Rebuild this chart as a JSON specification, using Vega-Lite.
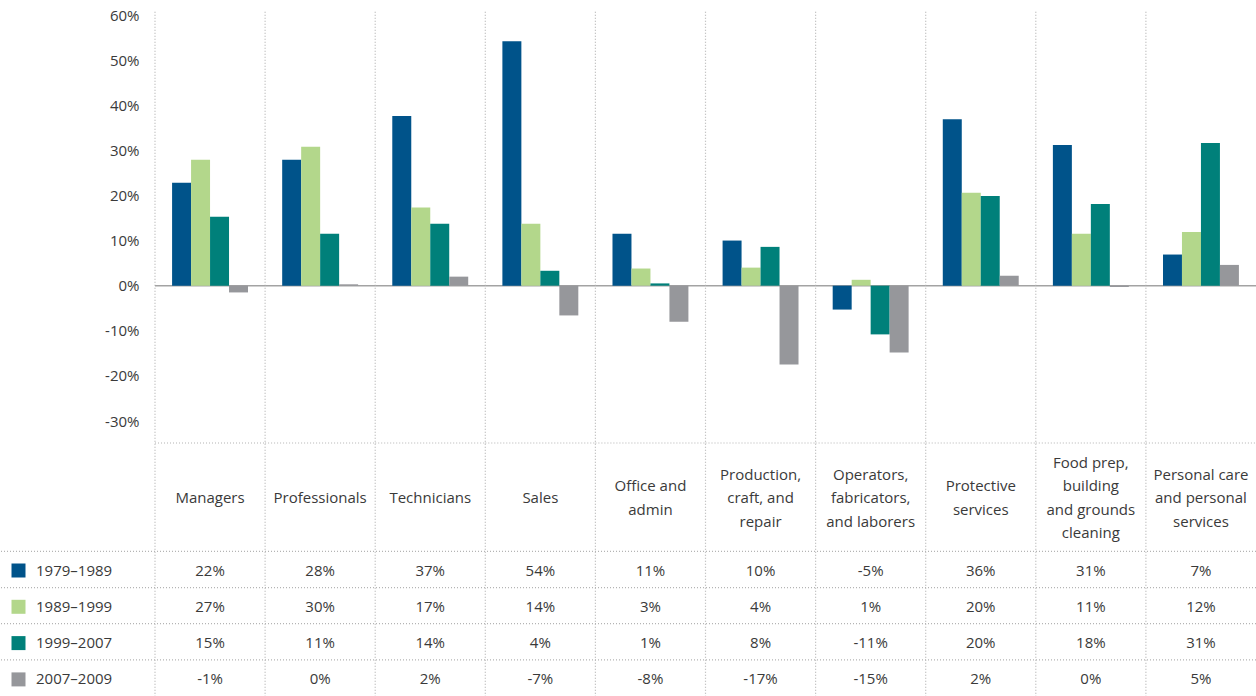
{
  "$schema": "https://vega.github.io/schema/vega-lite/v6.json",
  "width": 1256,
  "height": 696,
  "autosize": {"type": "none"},
  "padding": 0,
  "config": {"font": "Open Sans", "view": {"stroke": null}},
  "datasets": {
    "d": [
      {"occ": "Managers", "period": "1979–1989", "value": 22.8, "label": "22%"},
      {"occ": "Managers", "period": "1989–1999", "value": 27.9, "label": "27%"},
      {"occ": "Managers", "period": "1999–2007", "value": 15.3, "label": "15%"},
      {"occ": "Managers", "period": "2007–2009", "value": -1.5, "label": "-1%"},
      {"occ": "Professionals", "period": "1979–1989", "value": 27.9, "label": "28%"},
      {"occ": "Professionals", "period": "1989–1999", "value": 30.8, "label": "30%"},
      {"occ": "Professionals", "period": "1999–2007", "value": 11.5, "label": "11%"},
      {"occ": "Professionals", "period": "2007–2009", "value": 0.3, "label": "0%"},
      {"occ": "Technicians", "period": "1979–1989", "value": 37.6, "label": "37%"},
      {"occ": "Technicians", "period": "1989–1999", "value": 17.3, "label": "17%"},
      {"occ": "Technicians", "period": "1999–2007", "value": 13.7, "label": "14%"},
      {"occ": "Technicians", "period": "2007–2009", "value": 2.0, "label": "2%"},
      {"occ": "Sales", "period": "1979–1989", "value": 54.2, "label": "54%"},
      {"occ": "Sales", "period": "1989–1999", "value": 13.7, "label": "14%"},
      {"occ": "Sales", "period": "1999–2007", "value": 3.3, "label": "4%"},
      {"occ": "Sales", "period": "2007–2009", "value": -6.6, "label": "-7%"},
      {"occ": "Office and\nadmin", "period": "1979–1989", "value": 11.5, "label": "11%"},
      {"occ": "Office and\nadmin", "period": "1989–1999", "value": 3.8, "label": "3%"},
      {"occ": "Office and\nadmin", "period": "1999–2007", "value": 0.5, "label": "1%"},
      {"occ": "Office and\nadmin", "period": "2007–2009", "value": -8.0, "label": "-8%"},
      {"occ": "Production,\ncraft, and\nrepair", "period": "1979–1989", "value": 10.0, "label": "10%"},
      {"occ": "Production,\ncraft, and\nrepair", "period": "1989–1999", "value": 4.0, "label": "4%"},
      {"occ": "Production,\ncraft, and\nrepair", "period": "1999–2007", "value": 8.6, "label": "8%"},
      {"occ": "Production,\ncraft, and\nrepair", "period": "2007–2009", "value": -17.5, "label": "-17%"},
      {"occ": "Operators,\nfabricators,\nand laborers", "period": "1979–1989", "value": -5.3, "label": "-5%"},
      {"occ": "Operators,\nfabricators,\nand laborers", "period": "1989–1999", "value": 1.3, "label": "1%"},
      {"occ": "Operators,\nfabricators,\nand laborers", "period": "1999–2007", "value": -10.8, "label": "-11%"},
      {"occ": "Operators,\nfabricators,\nand laborers", "period": "2007–2009", "value": -14.8, "label": "-15%"},
      {"occ": "Protective\nservices", "period": "1979–1989", "value": 36.9, "label": "36%"},
      {"occ": "Protective\nservices", "period": "1989–1999", "value": 20.6, "label": "20%"},
      {"occ": "Protective\nservices", "period": "1999–2007", "value": 19.9, "label": "20%"},
      {"occ": "Protective\nservices", "period": "2007–2009", "value": 2.2, "label": "2%"},
      {"occ": "Food prep,\nbuilding\nand grounds\ncleaning", "period": "1979–1989", "value": 31.2, "label": "31%"},
      {"occ": "Food prep,\nbuilding\nand grounds\ncleaning", "period": "1989–1999", "value": 11.5, "label": "11%"},
      {"occ": "Food prep,\nbuilding\nand grounds\ncleaning", "period": "1999–2007", "value": 18.1, "label": "18%"},
      {"occ": "Food prep,\nbuilding\nand grounds\ncleaning", "period": "2007–2009", "value": -0.3, "label": "0%"},
      {"occ": "Personal care\nand personal\nservices", "period": "1979–1989", "value": 6.9, "label": "7%"},
      {"occ": "Personal care\nand personal\nservices", "period": "1989–1999", "value": 11.9, "label": "12%"},
      {"occ": "Personal care\nand personal\nservices", "period": "1999–2007", "value": 31.6, "label": "31%"},
      {"occ": "Personal care\nand personal\nservices", "period": "2007–2009", "value": 4.6, "label": "5%"}
    ]
  },
  "data": {"name": "d"},
  "encoding": {
    "x": {
      "field": "occ",
      "type": "nominal",
      "sort": null,
      "axis": null,
      "scale": {
        "domain": ["Managers", "Professionals", "Technicians", "Sales", "Office and\nadmin", "Production,\ncraft, and\nrepair", "Operators,\nfabricators,\nand laborers", "Protective\nservices", "Food prep,\nbuilding\nand grounds\ncleaning", "Personal care\nand personal\nservices"],
        "range": [155, 1256],
        "paddingInner": 0,
        "paddingOuter": 0
      }
    }
  },
  "layer": [
    {
      "layer": [
        {
          "transform": [{"filter": "datum.period === '1979–1989'"}],
          "mark": {"type": "rule", "color": "#b4b4b4", "strokeDash": [1, 2], "strokeWidth": 1.2},
          "encoding": {
            "x": {"field": "occ", "type": "nominal", "bandPosition": 0},
            "y": {"datum": 60.7, "type": "quantitative"},
            "y2": {"datum": -95}
          }
        },
        {
          "transform": [{"filter": "datum.period === '1979–1989'"}],
          "mark": {"type": "rule", "color": "#a3a3a3", "strokeWidth": 1.5},
          "encoding": {
            "x": {"field": "occ", "type": "nominal", "bandPosition": 0},
            "x2": {"field": "occ", "bandPosition": 1},
            "y": {"datum": 0, "type": "quantitative"}
          }
        },
        {
          "mark": {"type": "bar"},
          "encoding": {
            "xOffset": {"field": "period", "type": "nominal", "sort": null, "scale": {"paddingOuter": 0.9, "paddingInner": 0}},
            "y": {
              "field": "value",
              "type": "quantitative",
              "scale": {"domain": [-30, 60], "range": [421, 15], "nice": false},
              "axis": {
                "orient": "left",
                "offset": -155,
                "values": [-30, -20, -10, 0, 10, 20, 30, 40, 50, 60],
                "labelExpr": "datum.value + '%'",
                "grid": false,
                "ticks": false,
                "domain": false,
                "title": null,
                "labelFontSize": 15,
                "labelColor": "#3a3a3a",
                "labelPadding": 16
              }
            },
            "color": {
              "field": "period",
              "type": "nominal",
              "sort": null,
              "scale": {
                "domain": ["1979–1989", "1989–1999", "1999–2007", "2007–2009"],
                "range": ["#00538a", "#b3d78b", "#00807a", "#96979b"]
              },
              "legend": {
                "orient": "none",
                "legendX": 11,
                "legendY": 563,
                "title": null,
                "symbolType": "square",
                "symbolSize": 196,
                "symbolStrokeWidth": 0,
                "symbolOpacity": 1,
                "rowPadding": 20.3,
                "labelOffset": 10,
                "padding": 0,
                "labelFontSize": 15,
                "labelColor": "#3a3a3a"
              }
            }
          }
        }
      ]
    },
    {
      "layer": [
        {
          "transform": [{"filter": "datum.occ === 'Managers'"}],
          "mark": {"type": "rule", "color": "#b4b4b4", "strokeDash": [1, 2], "strokeWidth": 1.2},
          "encoding": {
            "x": null,
            "y": {
              "field": "period",
              "type": "nominal",
              "bandPosition": 0,
              "axis": null,
              "scale": {
                "type": "band",
                "domain": ["top", "hdr", "bot", "1979–1989", "1989–1999", "1999–2007", "2007–2009"],
                "range": [443, 696],
                "paddingInner": 0,
                "paddingOuter": 0
              }
            }
          }
        },
        {
          "transform": [{"filter": "datum.period === '1979–1989'"}],
          "mark": {"type": "rule", "color": "#b4b4b4", "strokeDash": [1, 2], "strokeWidth": 1.2},
          "encoding": {
            "x": {"field": "occ", "type": "nominal", "bandPosition": 0},
            "x2": {"field": "occ", "bandPosition": 1},
            "y": {"datum": "top", "type": "nominal", "bandPosition": 0}
          }
        },
        {
          "transform": [{"filter": "datum.period === '1979–1989' && indexof(datum.occ, '\\n') < 0"}],
          "mark": {"type": "text", "fontSize": 15, "color": "#3a3a3a", "baseline": "middle", "align": "center", "dy": 1},
          "encoding": {
            "text": {"field": "occ"},
            "y": {"datum": "hdr", "type": "nominal"}
          }
        },
        {
          "transform": [{"filter": "datum.period === '1979–1989' && split(datum.occ, '\\n').length === 2"}],
          "mark": {"type": "text", "fontSize": 15, "color": "#3a3a3a", "lineBreak": "\n", "lineHeight": 23.5, "baseline": "middle", "align": "center", "dy": -10.75},
          "encoding": {
            "text": {"field": "occ"},
            "y": {"datum": "hdr", "type": "nominal"}
          }
        },
        {
          "transform": [{"filter": "datum.period === '1979–1989' && split(datum.occ, '\\n').length === 3"}],
          "mark": {"type": "text", "fontSize": 15, "color": "#3a3a3a", "lineBreak": "\n", "lineHeight": 23.5, "baseline": "middle", "align": "center", "dy": -22.5},
          "encoding": {
            "text": {"field": "occ"},
            "y": {"datum": "hdr", "type": "nominal"}
          }
        },
        {
          "transform": [{"filter": "datum.period === '1979–1989' && split(datum.occ, '\\n').length === 4"}],
          "mark": {"type": "text", "fontSize": 15, "color": "#3a3a3a", "lineBreak": "\n", "lineHeight": 23.5, "baseline": "middle", "align": "center", "dy": -34.25},
          "encoding": {
            "text": {"field": "occ"},
            "y": {"datum": "hdr", "type": "nominal"}
          }
        },
        {
          "mark": {"type": "text", "fontSize": 15, "color": "#3a3a3a", "baseline": "middle", "align": "center", "dy": 1.5},
          "encoding": {
            "text": {"field": "label"},
            "y": {"field": "period", "type": "nominal"}
          }
        }
      ]
    }
  ],
  "resolve": {"scale": {"y": "independent"}}
}
